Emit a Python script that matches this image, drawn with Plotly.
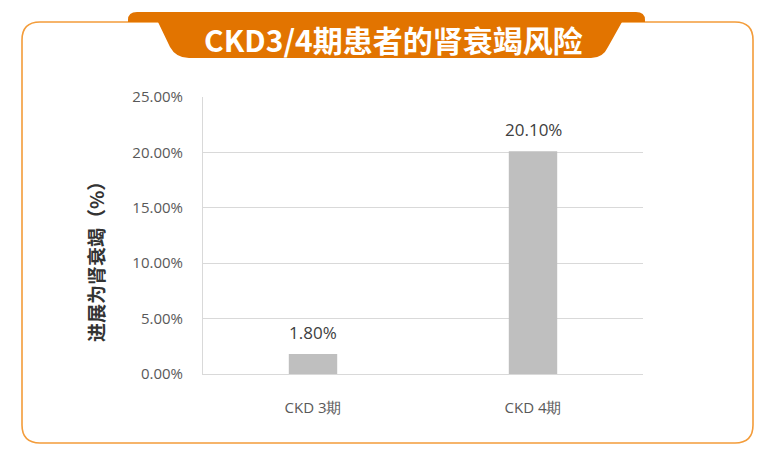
import plotly.graph_objects as go

categories = ["CKD 3期", "CKD 4期"]
values = [1.8, 20.1]
title_text = "CKD3/4期患者的肾衰竭风险"
y_title = "进展为肾衰竭（%）"

# screen-pixel layout (page body has an 8px margin)
OFF = 8
W, H = 767 - 2 * OFF, 452 - 2 * OFF
L, R, T, B = 203, 643, 97, 374


def px(x):
    return (x - L) / (R - L)


def py(y):
    return (B - y) / (B - T)


def path(cmds):
    out = []
    for c in cmds:
        if isinstance(c, str):
            out.append(c)
        else:
            out.append(f"{px(c[0]):.5f},{py(c[1]):.5f}")
    return " ".join(out)


orange_line = "#F39C3A"
orange_fill = "#E27400"

fr = 18
frame = path([
    "M", (22 + fr, 22), "L", (753 - fr, 22), "Q", (753, 22), (753, 22 + fr),
    "L", (753, 443 - fr), "Q", (753, 443), (753 - fr, 443),
    "L", (22 + fr, 443), "Q", (22, 443), (22, 443 - fr),
    "L", (22, 22 + fr), "Q", (22, 22), (22 + fr, 22), "Z",
])

banner = path([
    "M", (128, 22), "L", (128, 20), "Q", (128, 12), (137, 12),
    "L", (636, 12), "Q", (645, 12), (645, 20), "L", (645, 22),
    "L", (622, 22), "L", (608, 47), "Q", (603, 58), (591, 58),
    "L", (189, 58), "Q", (176, 58), (170, 47), "L", (158, 22), "Z",
])

fig = go.Figure()
fig.add_trace(go.Bar(
    x=categories, y=values,
    marker=dict(color="#BFBFBF", line=dict(width=0)),
))

label_annos = [
    dict(x=c, y=v, xref="x", yref="y", text=f"{v:.2f}%", showarrow=False,
         xanchor="center", yanchor="bottom", yshift=8,
         font=dict(family="Open Sans", size=17, color="#404040"))
    for c, v in zip(categories, values)
]

fig.update_layout(
    width=W, height=H,
    margin=dict(l=L - OFF, r=(W + OFF) - R, t=T - OFF, b=(H + OFF) - B),
    paper_bgcolor="white", plot_bgcolor="white",
    showlegend=False,
    bargap=0.78,
    xaxis=dict(
        showline=True, linecolor="#D9D9D9", linewidth=1,
        showgrid=False, ticks="",
        tickfont=dict(family="Open Sans", size=15, color="#595959"),
        ticklabelstandoff=20,
    ),
    yaxis=dict(
        range=[0, 25], dtick=5, tickformat=".2f", ticksuffix="%",
        showline=True, linecolor="#D9D9D9", linewidth=1,
        showgrid=True, gridcolor="#D9D9D9", gridwidth=1,
        zeroline=False, ticks="",
        tickfont=dict(family="Open Sans", size=15, color="#595959"),
        ticklabelstandoff=16,
    ),
    shapes=[
        dict(type="path", xref="paper", yref="paper", path=frame,
             line=dict(color=orange_line, width=1.6), fillcolor="rgba(0,0,0,0)",
             layer="below"),
        dict(type="path", xref="paper", yref="paper", path=banner,
             line=dict(width=0), fillcolor=orange_fill, layer="above"),
    ],
    annotations=label_annos + [
        dict(text=f"<b>{title_text}</b>", xref="paper", yref="paper",
             x=px(393), y=py(39), xanchor="center", yanchor="middle",
             showarrow=False,
             font=dict(family="Noto Sans CJK SC", size=30, color="white")),
        dict(text=f"<b>{y_title}</b>", xref="paper", yref="paper",
             x=px(95), y=py(257), xanchor="center", yanchor="middle",
             showarrow=False, textangle=-90,
             font=dict(family="Noto Sans CJK SC", size=19, color="#333333")),
    ],
)

fig.write_html("out.html")
